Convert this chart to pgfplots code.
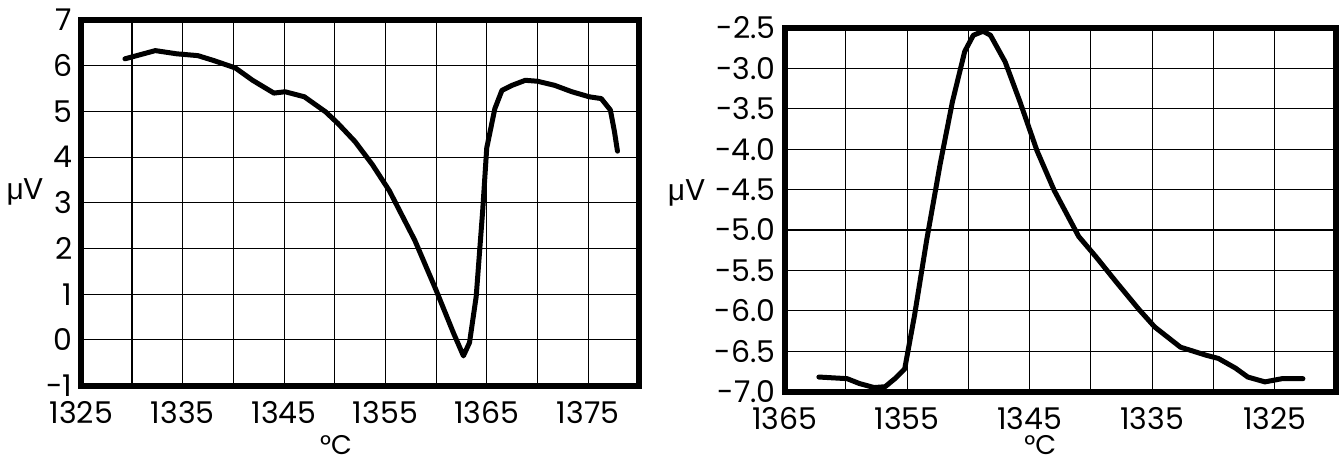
\documentclass[border=0pt]{standalone}
\usepackage{fontspec}
\setmainfont{Poppins}
\newfontfamily\mufont{Liberation Sans}
\usepackage{pgfplots}
\pgfplotsset{compat=1.18}

\begin{document}
\begin{tikzpicture}
\path (0pt,0pt) rectangle (671pt,231pt);
\pgfplotsset{
  every axis/.append style={
    scale only axis,
    axis line style={black, line width=3pt},
    grid=both,
    major grid style={black, line width=0.55pt},
    minor grid style={black, line width=0.55pt},
    major tick length=0pt, minor tick length=0pt,
    tick label style={font=\fontsize{15}{17}\selectfont},
    xticklabel style={yshift=-4.6pt},
    yticklabel style={xshift=-1pt},
  },
}

% ============ left panel ============
\begin{axis}[
    at={(40pt,38pt)}, anchor=south west,
    width=279pt, height=183pt,
    xmin=1325, xmax=1380, ymin=-1, ymax=7,
    xtick={1325,1335,1345,1355,1365,1375},
    minor xtick={1330,1340,1350,1360,1370,1380},
    ytick={-1,0,1,2,3,4,5,6,7},
    yticklabels={-1,0,1,2,3,4,5,6,7},
    xticklabels={1325,1335,1345,1355,1365,1375},
]
\addplot[black, line width=2.5pt, line join=round, line cap=round]
  coordinates {
    (1329.3,6.15) (1332.3,6.33) (1334.4,6.26) (1336.5,6.22) (1338.1,6.11)
    (1340.2,5.95) (1341.9,5.68) (1344.0,5.40) (1345.1,5.43) (1347.0,5.32)
    (1349.1,4.99) (1350.3,4.74) (1352.0,4.34) (1353.7,3.84) (1355.4,3.26)
    (1357.9,2.18) (1360.0,1.09) (1361.7,0.16) (1362.7,-0.35) (1363.3,-0.06)
    (1363.96,0.95) (1364.6,2.83) (1365.0,4.20) (1365.8,5.06) (1366.5,5.46)
    (1367.5,5.57) (1368.8,5.68) (1370.0,5.66) (1371.7,5.57) (1373.4,5.43)
    (1375.1,5.32) (1376.3,5.28) (1377.2,5.03) (1377.6,4.56) (1377.9,4.13)
  };
\end{axis}

% ============ right panel ============
\begin{axis}[
    at={(392pt,35pt)}, anchor=south west,
    width=276pt, height=182pt,
    x dir=reverse,
    xmin=1320, xmax=1365, ymin=-7, ymax=-2.5,
    xtick={1325,1335,1345,1355,1365},
    minor xtick={1320,1330,1340,1350,1360},
    xticklabels={1325,1335,1345,1355,1365},
    ytick={-7,-6.5,-6,-5.5,-5,-4.5,-4,-3.5,-3,-2.5},
    yticklabels={-7.0,-6.5,-6.0,-5.5,-5.0,-4.5,-4.0,-3.5,-3.0,-2.5},
]
\addplot[black, line width=2.5pt, line join=round, line cap=round]
  coordinates {
    (1362.2,-6.82) (1359.9,-6.84) (1358.9,-6.90) (1357.7,-6.95) (1356.8,-6.94)
    (1356.0,-6.84) (1355.2,-6.72) (1354.4,-6.06) (1353.4,-5.12) (1352.3,-4.18)
    (1351.3,-3.41) (1350.3,-2.79) (1349.6,-2.59) (1348.8,-2.54) (1348.2,-2.59)
    (1347.0,-2.92) (1345.8,-3.41) (1344.4,-4.02) (1343.0,-4.51) (1341.0,-5.08)
    (1339.6,-5.33) (1337.9,-5.65) (1336.1,-5.98) (1334.8,-6.20) (1332.7,-6.45)
    (1330.6,-6.55) (1329.6,-6.59) (1328.2,-6.71) (1327.2,-6.82) (1325.8,-6.88)
    (1324.4,-6.84) (1322.7,-6.84)
  };
\end{axis}

\node[font=\fontsize{15}{17}\selectfont] at (12pt,135pt) {{\mufont μ}V};
\node[font=\fontsize{15}{17}\selectfont] at (343pt,134.5pt) {{\mufont μ}V};
\node[font=\fontsize{13.5}{15}\selectfont, inner sep=0pt, anchor=base] at (167.5pt,3.6pt) {°C};
\node[font=\fontsize{13.5}{15}\selectfont, inner sep=0pt, anchor=base] at (520pt,3.4pt) {°C};
\end{tikzpicture}
\end{document}
